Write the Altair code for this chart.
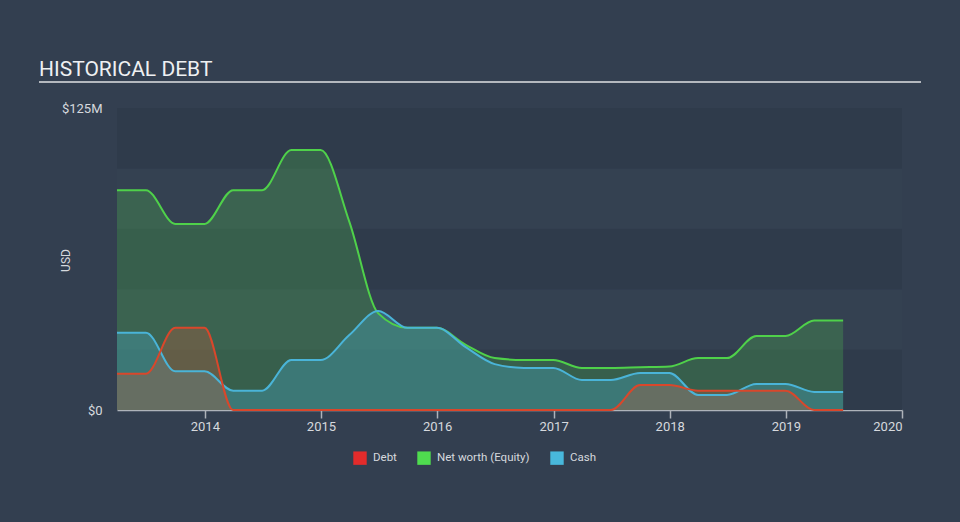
import altair as alt
import pandas as pd

# ---- data ----
dates = [
    "2013-03-31", "2013-06-30", "2013-09-30", "2013-12-31",
    "2014-03-31", "2014-06-30", "2014-09-30", "2014-12-31",
    "2015-03-31", "2015-06-30", "2015-09-30", "2015-12-31",
    "2016-03-31", "2016-06-30", "2016-09-30", "2016-12-31",
    "2017-03-31", "2017-06-30", "2017-09-30", "2017-12-31",
    "2018-03-31", "2018-06-30", "2018-09-30", "2018-12-31",
    "2019-03-31", "2019-06-30",
]
debt = [15, 15, 34, 34, 0, 0, 0, 0, 0, 0, 0, 0, 0, 0, 0, 0,
        0, 0, 10.3, 10.3, 8, 8, 8, 8, 0, 0]
networth = [91, 91, 77, 77, 91, 91, 107.6, 107.6, 78, 40, 34, 34, 27, 21.5,
            20.7, 20.7, 17.4, 17.4, 17.7, 18, 21.5, 21.5, 30.6, 30.6, 37, 37]
cash = [32, 32, 16, 16, 8, 8, 20.7, 20.7, 31, 41, 34, 34, 26, 19,
        17.4, 17.4, 12.4, 12.4, 15.3, 15.3, 6.2, 6.2, 10.8, 10.8, 7.5, 7.5]

series_names = ["Debt", "Net worth (Equity)", "Cash"]
band_edges = [0, 25, 50, 75, 100, 125]
year_ticks = [2014, 2015, 2016, 2017, 2018, 2019, 2020]

# ---- tables ----
rows = []
for name, vals in zip(series_names, [debt, networth, cash]):
    for d, v in zip(dates, vals):
        rows.append({"date": d, "value": v, "series": name})
long = pd.DataFrame(rows)

bands = pd.DataFrame({
    "lo": band_edges[:-1],
    "hi": band_edges[1:],
    "shade": [i % 2 for i in range(len(band_edges) - 1)],
})

# ---- styling ----
BG = "#333f50"
TXT = "#d6d9de"
FONT = "Roboto"
C_DEBT_LINE = "#d9472b"
C_NW_LINE = "#4fd14a"
C_CASH_LINE = "#4ab4d8"
LEGEND_COLORS = ["#e32b2b", "#4fdc4f", "#48b8dc"]

W, H = 785, 302

xscale = alt.Scale(
    type="utc",
    domain=[alt.DateTime(year=2013, month=3, date=31, utc=True),
            alt.DateTime(year=2020, month=1, date=1, utc=True)],
    nice=False,
)
yscale = alt.Scale(domain=[0, 125], nice=False, zero=True)

xaxis = alt.Axis(
    values=[alt.DateTime(year=y, month=1, date=1, utc=True) for y in year_ticks],
    format="%Y",
    grid=False,
    domainColor="#aeb3ba",
    domainWidth=1.5,
    tickColor="#aeb3ba",
    tickSize=8,
    tickWidth=1.5,
    labelColor=TXT,
    labelFont=FONT,
    labelFontSize=13,
    labelPadding=2,
    title=None,
)
yaxis = alt.Axis(
    values=[0, 125],
    labelExpr="datum.value == 0 ? '$0' : '$' + datum.value + 'M'",
    grid=False,
    domain=False,
    ticks=False,
    labelColor=TXT,
    labelFont=FONT,
    labelFontSize=13,
    labelPadding=15,
    labelBaseline="middle",
    title="USD",
    titleColor=TXT,
    titleFont=FONT,
    titleFontSize=12,
    titleFontWeight="normal",
    titleX=-52,
    titleY=152,
    titleAlign="center",
    titleBaseline="middle",
    titleAngle=270,
)

X = alt.X("date:T", scale=xscale, axis=xaxis, title=None)
Y = alt.Y("value:Q", scale=yscale, axis=yaxis, title="USD")

base = alt.Chart(long)

band_layer = alt.Chart(bands).mark_rect().encode(
    x=alt.value(0),
    x2=alt.value(W),
    y=alt.Y("lo:Q", scale=yscale, axis=yaxis, title="USD"),
    y2="hi:Q",
    fill=alt.condition("datum.shade == 1", alt.value("#344151"), alt.value("#2f3b4b")),
)

def area(name, color, opacity):
    return base.transform_filter(alt.datum.series == name).mark_area(
        interpolate="monotone", color=color, opacity=opacity
    ).encode(x=X, y=Y)

def line(name, color):
    return base.transform_filter(alt.datum.series == name).mark_line(
        interpolate="monotone", color=color, strokeWidth=2
    ).encode(x=X, y=Y)

legend_layer = base.mark_square(opacity=0).encode(
    x=X, y=Y,
    color=alt.Color(
        "series:N",
        scale=alt.Scale(domain=series_names, range=LEGEND_COLORS),
        legend=alt.Legend(
            title=None,
            orient="none",
            legendX=236,
            legendY=343,
            direction="horizontal",
            symbolType="square",
            symbolSize=180,
            symbolOpacity=1,
            symbolStrokeWidth=0,
            labelColor=TXT,
            labelFont=FONT,
            labelFontSize=11.5,
            labelOffset=6,
            columnPadding=20,
            padding=0,
        ),
    ),
)

title_rule = alt.Chart(pd.DataFrame({"k": [0]})).mark_rule(
    color="#b4b8be", strokeWidth=2
).encode(x=alt.value(-78), x2=alt.value(804), y=alt.value(-26))

chart = alt.layer(
    band_layer,
    area("Net worth (Equity)", "#50c050", 0.28),
    area("Cash", C_CASH_LINE, 0.3),
    area("Debt", "#b85a3e", 0.34),
    line("Net worth (Equity)", C_NW_LINE),
    line("Cash", C_CASH_LINE),
    line("Debt", C_DEBT_LINE),
    legend_layer,
    title_rule,
).properties(
    width=W,
    height=H,
    autosize=alt.AutoSizeParams(type="none"),
    padding={"left": 117, "top": 108, "right": 58, "bottom": 112},
    background=BG,
    title=alt.TitleParams(
        "HISTORICAL DEBT",
        anchor="start",
        dx=1,
        offset=1,
        color="#eef0f2",
        font=FONT,
        fontSize=21,
        fontWeight="normal",
    ),
).configure_view(stroke=None)

chart.save("out.html", embed_options={"renderer": "svg", "actions": False})
